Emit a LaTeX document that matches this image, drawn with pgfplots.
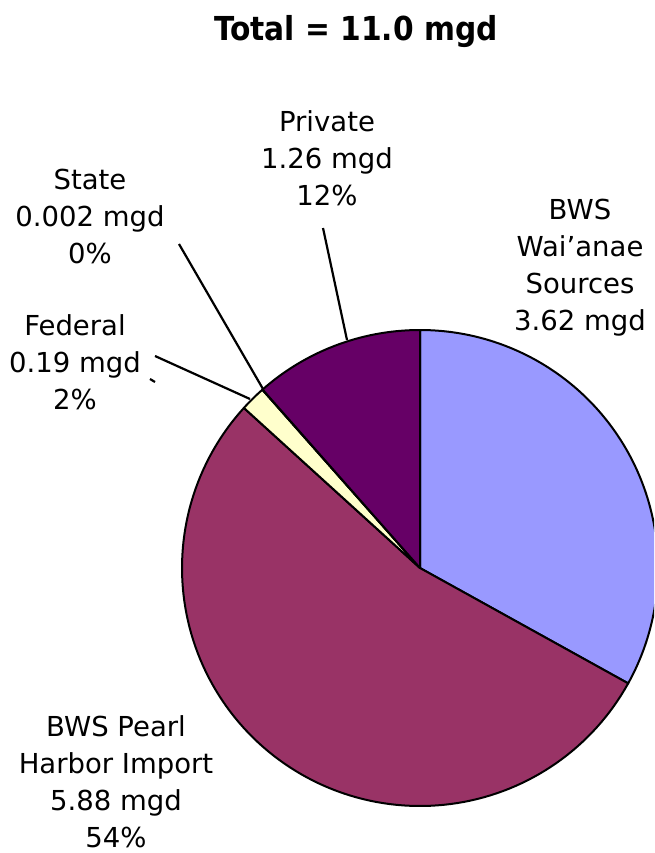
\documentclass[border=0pt]{standalone}
\usepackage{fontspec}
\setmainfont{DejaVu Sans}
\IfFontExistsTF{DejaVu Sans Condensed Bold}
  {\newfontfamily\titlefont{DejaVu Sans Condensed Bold}}
  {\newcommand\titlefont{\bfseries}}
\usepackage{pgfplots}
\usepackage{pgfplotstable}
\pgfplotsset{compat=1.18}
\usepackage{xcolor}

\definecolor{waianae}{HTML}{9999FF}
\definecolor{pearl}{HTML}{993366}
\definecolor{federal}{HTML}{FFFFCC}
\definecolor{state}{HTML}{CCFFFF}
\definecolor{private}{HTML}{660066}

% water sources, mgd (clockwise from 12 o'clock)
\pgfplotstableread{
source value
Waianae 3.62
PearlHarbor 5.88
Federal 0.19
State 0.002
Private 1.26
}\pietable

\pgfplotstablegetelem{0}{value}\of\pietable \let\vA\pgfplotsretval
\pgfplotstablegetelem{1}{value}\of\pietable \let\vB\pgfplotsretval
\pgfplotstablegetelem{2}{value}\of\pietable \let\vC\pgfplotsretval
\pgfplotstablegetelem{3}{value}\of\pietable \let\vD\pgfplotsretval
\pgfplotstablegetelem{4}{value}\of\pietable \let\vE\pgfplotsretval
\pgfmathsetmacro{\tot}{\vA+\vB+\vC+\vD+\vE}
\pgfmathsetmacro{\aA}{90}
\pgfmathsetmacro{\aB}{90-360*\vA/\tot}
\pgfmathsetmacro{\aC}{90-360*(\vA+\vB)/\tot}
\pgfmathsetmacro{\aD}{90-360*(\vA+\vB+\vC)/\tot}
\pgfmathsetmacro{\aE}{90-360*(\vA+\vB+\vC+\vD)/\tot}
\pgfmathsetmacro{\aF}{-270}

% centre and radius in picture units
\def\cx{420}
\def\cy{568}
\def\rr{238}
\newcommand{\pieslice}[3]{%
  \addplot[fill=#3, draw=black, line width=2pt, line join=round,
    domain=#1:#2, samples=120, variable=\t]
    ({\cx+\rr*cos(\t)},{\cy-\rr*sin(\t)}) -- (axis cs:\cx,\cy) -- cycle;
}
\newcommand{\lab}{\fontsize{27.5}{37}\selectfont}

\begin{document}
\begin{tikzpicture}
\begin{axis}[width=654pt, height=853pt, scale only axis,
  xmin=0, xmax=654, ymin=0, ymax=853, y dir=reverse,
  hide axis, clip=true]
\pieslice{\aB}{\aA}{waianae}
\pieslice{\aC}{\aB}{pearl}
\pieslice{\aD}{\aC}{federal}
\pieslice{\aE}{\aD}{state}
\pieslice{\aF}{\aE}{private}

% leader lines
\addplot[black, line width=2.2pt] coordinates {(323,228) (347,340)};
\addplot[black, line width=2.2pt] coordinates {(179,244) (263,389)};
\addplot[black, line width=2.2pt] coordinates {(155,356) (250,399)};
\addplot[black, line width=2.2pt] coordinates {(150,379) (155,382)};

\node[anchor=base, font=\titlefont\fontsize{33}{36}\selectfont]
  at (axis cs:356,41) {Total = 11.0 mgd};
\node[align=center, font=\lab] at (axis cs:327,158) {Private\\1.26 mgd\\12\%};
\node[align=center, font=\lab] at (axis cs:90,216) {State\\0.002 mgd\\0\%};
\node[align=center, font=\lab] at (axis cs:75,362) {Federal\\0.19 mgd\\2\%};
\node[align=center, font=\lab] at (axis cs:580,268) {BWS\\Wai’anae\\Sources\\3.62 mgd};
\node[align=center, font=\lab] at (axis cs:116,782) {BWS Pearl\\Harbor Import\\5.88 mgd\\54\%};
\end{axis}
\pgfresetboundingbox
\path (current axis.south west) rectangle (current axis.north east);
\end{tikzpicture}
\end{document}
